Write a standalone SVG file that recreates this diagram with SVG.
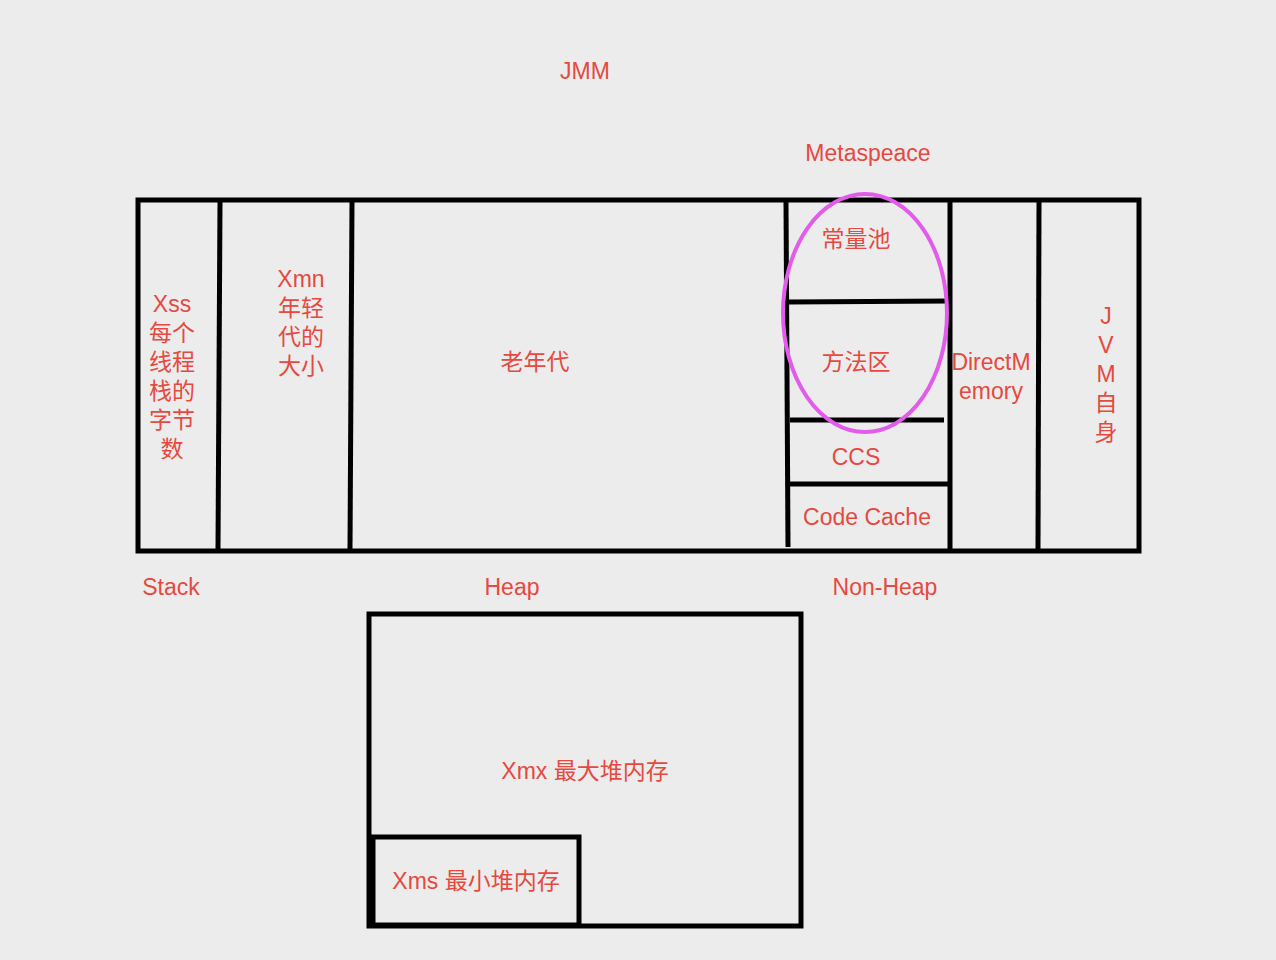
<svg xmlns="http://www.w3.org/2000/svg" width="1276" height="960" viewBox="0 0 1276 960">
<style>
.t{font-family:"Liberation Sans","Noto Sans CJK SC",sans-serif;font-size:23px;fill:#E5493F;text-anchor:middle}
.l{fill:none;stroke:#000;stroke-width:5}
.e{fill:none;stroke:#E35BEA;stroke-width:4}
</style>
<rect width="1276" height="960" fill="#ECECEC"/>
<g id="labels">
<text class="t" x="585" y="79">JMM</text>
<text class="t" x="868" y="161">Metaspeace</text>
<text class="t" x="171" y="595">Stack</text>
<text class="t" x="512" y="595">Heap</text>
<text class="t" x="885" y="595">Non-Heap</text>
</g>
<g id="jmm-box">
<rect class="l" x="138" y="200" width="1001" height="351"/>
</g>
<g id="connectors">
<line class="l" x1="220" y1="202" x2="218" y2="549"/>
<line class="l" x1="352" y1="202" x2="350" y2="549"/>
<line class="l" x1="786" y1="202" x2="788" y2="547"/>
<line class="l" x1="950" y1="202" x2="950" y2="549"/>
<line class="l" x1="1039" y1="202" x2="1038" y2="549"/>
<line class="l" x1="788" y1="302" x2="950" y2="301"/>
<line class="l" x1="790" y1="420" x2="944" y2="420"/>
<line class="l" x1="790" y1="484" x2="950" y2="484"/>
</g>
<g id="stack">
<text class="t" x="172" y="312">Xss</text>
<text class="t" x="172" y="341">每个</text>
<text class="t" x="172" y="370">线程</text>
<text class="t" x="172" y="399">栈的</text>
<text class="t" x="172" y="428">字节</text>
<text class="t" x="172" y="457">数</text>
</g>
<g id="young">
<text class="t" x="301" y="287">Xmn</text>
<text class="t" x="301" y="316">年轻</text>
<text class="t" x="301" y="345">代的</text>
<text class="t" x="301" y="374">大小</text>
</g>
<g id="old"><text class="t" x="535" y="370">老年代</text></g>
<g id="constant-pool"><text class="t" x="856" y="247">常量池</text></g>
<g id="method-area"><text class="t" x="856" y="370">方法区</text></g>
<g id="ccs"><text class="t" x="856" y="465">CCS</text></g>
<g id="code-cache"><text class="t" x="867" y="525">Code Cache</text></g>
<g id="direct-memory">
<text class="t" x="991" y="370">DirectM</text>
<text class="t" x="991" y="399">emory</text>
</g>
<g id="jvm-self">
<text class="t" x="1106" y="324">J</text>
<text class="t" x="1106" y="353">V</text>
<text class="t" x="1106" y="382">M</text>
<text class="t" x="1106" y="411">自</text>
<text class="t" x="1106" y="440">身</text>
</g>
<g id="metaspace-ellipse"><ellipse class="e" cx="865" cy="313" rx="82" ry="119"/></g>
<g id="heap-max">
<rect class="l" x="369" y="614" width="432" height="312"/>
<text class="t" x="585" y="779">Xmx 最大堆内存</text>
</g>
<g id="heap-min">
<rect class="l" x="373" y="837" width="206" height="88"/>
<line class="l" x1="371" y1="835" x2="371" y2="925"/>
<text class="t" x="476" y="889">Xms 最小堆内存</text>
</g>
</svg>
